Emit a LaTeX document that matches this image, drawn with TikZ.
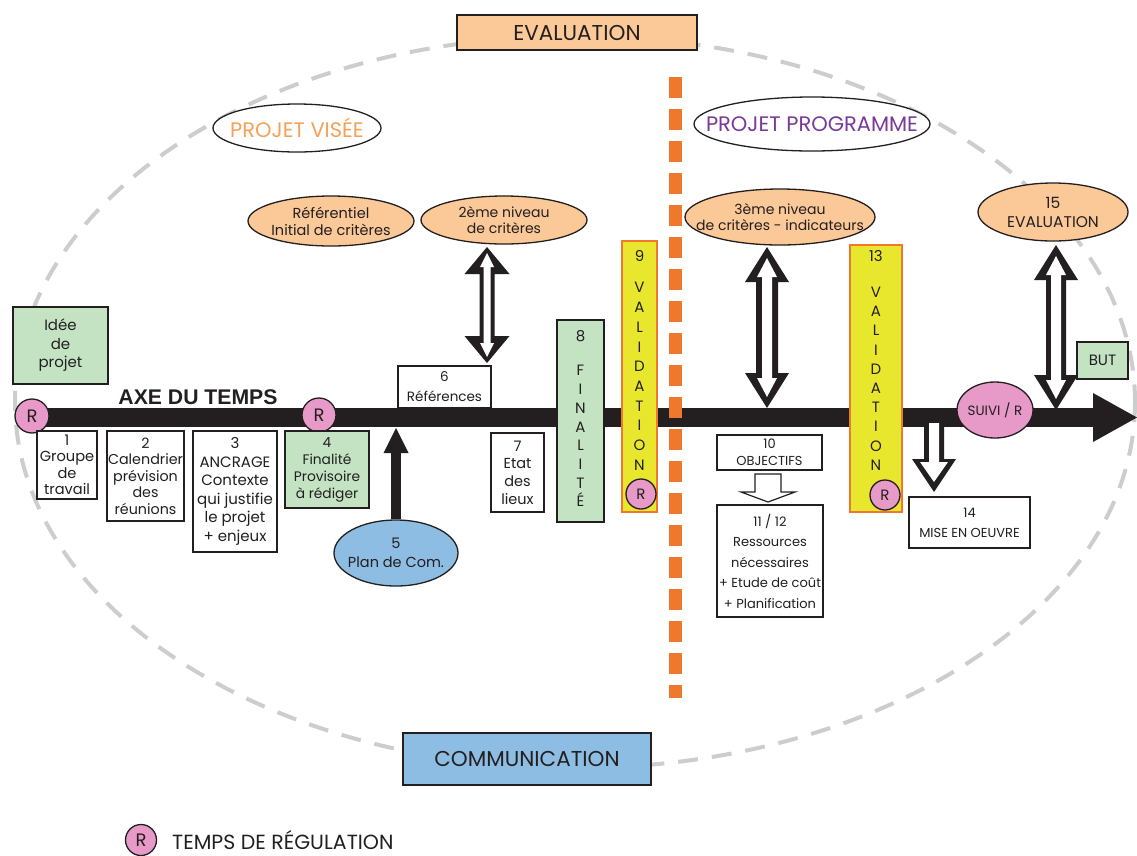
\documentclass[tikz,border=0pt]{standalone}
\usepackage{fontspec}
\setmainfont{Poppins}
\newfontfamily\axefont{Liberation Sans}
\usetikzlibrary{shapes.geometric,calc}
\definecolor{peach}{HTML}{FBC898}
\definecolor{greenc}{HTML}{C3E3C3}
\definecolor{bluec}{HTML}{8EBDE3}
\definecolor{pinkc}{HTML}{E79AC7}
\definecolor{yellowc}{HTML}{E8E72E}
\definecolor{orangec}{HTML}{F0782D}
\definecolor{orangetxt}{HTML}{F4A15A}
\definecolor{purplec}{HTML}{7A3A9A}
\definecolor{grayd}{HTML}{CDCDCD}
\definecolor{textc}{HTML}{231F20}
% double hollow arrow: top coord, length, shaft half, head half, head length, inner shaft half, inner head half, inner tip offset, inner head base offset
\newcommand\dbarrow[9]{%
\fill[textc] (#1) -- ++(#4,#5) -- ++({#3-#4},0) -- ++(0,{#2-2*#5}) -- ++({#4-#3},0) -- ++({-#4},#5) -- ++({-#4},{-#5}) -- ++({#4-#3},0) -- ++(0,{2*#5-#2}) -- ++({#3-#4},0) -- cycle;
\fill[white] ($(#1)+(0,#8)$) -- ++(#7,{#9-#8}) -- ++({#6-#7},0) -- ++(0,{#2-2*#9}) -- ++({#7-#6},0) -- ++({-#7},{#9-#8}) -- ++({-#7},{#8-#9}) -- ++({#7-#6},0) -- ++(0,{2*#9-#2}) -- ++({#6-#7},0) -- cycle;
}
\begin{document}
\begin{tikzpicture}[x=1pt,y=-1pt,
  every node/.style={text=textc},
  tbox/.style={draw=textc, line width=1.3pt, fill=white, align=center, inner sep=0pt, font=\fontsize{14.5}{17}\selectfont},
  ell/.style={ellipse, draw=textc, line width=1.3pt, inner sep=0pt},
  etxt/.style={inner sep=0pt, align=center, font=\fontsize{14}{16}\selectfont},
  rc/.style={circle, draw=textc, line width=1.3pt, fill=pinkc, inner sep=0pt, minimum size=34pt, font=\fontsize{18}{18}\selectfont},
  rcs/.style={rc, minimum size=30pt, font=\fontsize{15}{15}\selectfont},
  bigbox/.style={draw=textc, line width=1.3pt, inner sep=0pt, font=\fontsize{21.5}{21.5}\selectfont},
  vstack/.style={inner sep=0pt, align=center, anchor=north}
]
\useasboundingbox (0,0) rectangle (1137,855);
% dashed ellipse
\draw[grayd, line width=4pt, dash pattern=on 20pt off 14pt] (575,402) ellipse [x radius=560, y radius=366];
% big labels
\node[bigbox, fill=peach, minimum width=240pt, minimum height=35pt] (evaltop) at (577,32.5) {EVALUATION};
\node[bigbox, fill=bluec, minimum width=248pt, minimum height=52pt] (comm) at (527,759) {COMMUNICATION};
\node[ell, fill=white, minimum width=168pt, minimum height=48pt] (pv) at (297,128) {};
\node[etxt, text=orangetxt, font=\fontsize{21}{21}\selectfont] (pvt) at (pv) {PROJET VISÉE};
\node[ell, fill=white, minimum width=236pt, minimum height=54pt] (pp) at (812,124) {};
\node[etxt, text=purplec, font=\fontsize{21}{21}\selectfont] (ppt) at (pp) {PROJET PROGRAMME};
% criteria ellipses
\node[ell, fill=peach, minimum width=166pt, minimum height=50pt] (ref1) at (331,221) {};
\node[etxt, font=\fontsize{14.5}{17}\selectfont] (ref1t) at (ref1) {Référentiel\\Initial de critères};
\node[ell, fill=peach, minimum width=166pt, minimum height=48pt] (e2) at (504,220) {};
\node[etxt] (e2t) at (e2) {2ème niveau\\de critères};
\node[ell, fill=peach, minimum width=190pt, minimum height=56pt] (e3) at (780,217) {};
\node[etxt] (e3t) at (e3) {3ème niveau\\de critères - indicateurs};
\node[ell, fill=peach, minimum width=150pt, minimum height=58pt] (e15) at (1053,212) {};
\node[etxt, font=\fontsize{15.5}{19}\selectfont] (e15t) at (e15) {15\\EVALUATION};
% time axis
\coordinate (barstart) at (32,417.5);
\coordinate (headbase) at (1093,417.5);
\coordinate (tip) at (1137,417.5);
\draw[textc, line width=19pt] (barstart) -- (headbase);
\fill[textc] (headbase) ++(0,-24.5) -- (tip) -- ($(headbase)+(0,24.5)$) -- cycle;
\node[font=\axefont\bfseries\fontsize{21.2}{21.2}\selectfont, inner sep=0pt] (axe) at (198,397) {AXE DU TEMPS};
% orange separator
\coordinate (septop) at (675,77);
\coordinate (sepbot) at (675,698);
\draw[orangec, line width=13pt, dash pattern=on 21pt off 11pt] (septop) -- (sepbot);
% left part
\node[tbox, fill=greenc, minimum width=95pt, minimum height=77pt, font=\fontsize{15}{18.5}\selectfont] (idee) at (60.5,345.5) {Idée\\de\\projet};
\node[rc] (r1) at (32,416) {R};
\node[rc] (r2) at (319,415) {R};
\node[tbox, minimum width=60pt, minimum height=68pt, font=\fontsize{14.6}{16.5}\selectfont] (b1) at (67,465) {1\\Groupe\\de\\travail};
\node[tbox, minimum width=77pt, minimum height=90pt, font=\fontsize{14.3}{16.5}\selectfont] (b2) at (145.5,476) {2\\Calendrier\\prévision\\des\\réunions};
\node[tbox, minimum width=84pt, minimum height=121pt, font=\fontsize{15}{18.5}\selectfont] (b3) at (235,491.5) {3\\ANCRAGE\\Contexte\\qui justifie\\le projet\\+ enjeux};
\node[tbox, fill=greenc, minimum width=84pt, minimum height=77pt, font=\fontsize{13.8}{17}\selectfont] (b4) at (327,469.5) {4\\Finalité\\Provisoire\\à rédiger};
\node[ell, fill=bluec, minimum width=124pt, minimum height=66pt] (plan) at (396,553) {};
\node[etxt, font=\fontsize{14.5}{19}\selectfont] (plant) at (plan) {5\\Plan de Com.};
\coordinate (planarrowtop) at (396,428);
\draw[textc, line width=10pt] (plan.north) -- ($(planarrowtop)+(0,24)$);
\fill[textc] (planarrowtop) -- ++(12.5,25) -- ++(-25,0) -- cycle;
\node[tbox, minimum width=93pt, minimum height=42pt, font=\fontsize{13.5}{20}\selectfont] (b6) at (444.5,387) {6\\Références};
\node[tbox, minimum width=53pt, minimum height=79pt, font=\fontsize{14.5}{17.7}\selectfont] (b7) at (517.5,472.5) {7\\Etat\\des\\lieux};
\coordinate (a2top) at (487,247);
\dbarrow{a2top}{116}{7.5}{22.5}{27}{3.5}{7}{6}{20}
% finalite
\node[tbox, fill=greenc, minimum width=47pt, minimum height=202pt] (b8) at (580.5,421) {};
\node[vstack, font=\fontsize{15}{18.7}\selectfont] (b8t) at (580.5,330) {8\\[16pt]F\\I\\N\\A\\L\\I\\T\\É};
% validation 9
\node[tbox, draw=orangec, fill=yellowc, minimum width=35pt, minimum height=271pt] (b9) at (639.5,376.5) {};
\node[vstack, font=\fontsize{15}{19.7}\selectfont] (b9t) at (639.5,250) {9\\[12pt]V\\A\\L\\I\\D\\A\\T\\I\\O\\N};
\node[rcs] (r9) at (641,494) {R};
% right part
\node[tbox, minimum width=105pt, minimum height=35pt, font=\fontsize{13}{17.5}\selectfont] (b10) at (769.5,452.5) {10\\OBJECTIFS};
\node[tbox, minimum width=106pt, minimum height=112pt, font=\fontsize{13}{20.5}\selectfont] (b1112) at (770,561) {11 / 12\\Ressources\\nécessaires\\+ Etude de coût\\+ Planification};
\coordinate (oa) at (768,474);
\draw[textc, line width=1.2pt, fill=white] (oa) ++(-13,0) -- ++(26,0) -- ++(0,18) -- ++(14,0) -- ++(-27,10) -- ++(-27,-10) -- ++(14,0) -- cycle;
\coordinate (a3top) at (767,247);
\dbarrow{a3top}{161}{11}{22}{35}{5}{10}{11}{30}
\node[tbox, draw=orangec, fill=yellowc, minimum width=52pt, minimum height=267pt] (b13) at (876,378.5) {};
\node[vstack, font=\fontsize{15}{19.2}\selectfont] (b13t) at (876,250) {13\\[17pt]V\\A\\L\\I\\D\\A\\T\\I\\O\\N};
\node[rcs] (r13) at (885,495) {R};
% mise en oeuvre arrow
\coordinate (m14) at (934,423);
\fill[textc] (m14) ++(-10,0) -- ++(20,0) -- ++(0,36) -- ++(12,0) -- ++(-22,33) -- ++(-22,-33) -- ++(12,0) -- cycle;
\fill[white] (m14) ++(-5,0) -- ++(10,0) -- ++(0,39) -- ++(9,0) -- ++(-14,20) -- ++(-14,-20) -- ++(9,0) -- cycle;
\node[tbox, minimum width=121pt, minimum height=51pt, font=\fontsize{13}{20}\selectfont] (b14) at (969.5,522.5) {14\\MISE EN OEUVRE};
\node[ell, fill=pinkc, minimum width=76pt, minimum height=56pt] (suivi) at (995,410) {};
\node[etxt, font=\fontsize{13.5}{13.5}\selectfont] (suivit) at (suivi) {SUIVI / R};
\coordinate (a15top) at (1056,245);
\dbarrow{a15top}{165}{10}{22}{35}{5}{10}{11}{30}
\node[tbox, fill=greenc, minimum width=51pt, minimum height=37pt, font=\fontsize{15}{15}\selectfont] (but) at (1102.5,360.5) {BUT};
% legend
\node[rc, minimum size=31pt] (legr) at (141,840) {R};
\node[anchor=west, inner sep=0pt, font=\fontsize{20.5}{20.5}\selectfont] (legt) at (172,840) {TEMPS DE RÉGULATION};
\end{tikzpicture}
\end{document}
